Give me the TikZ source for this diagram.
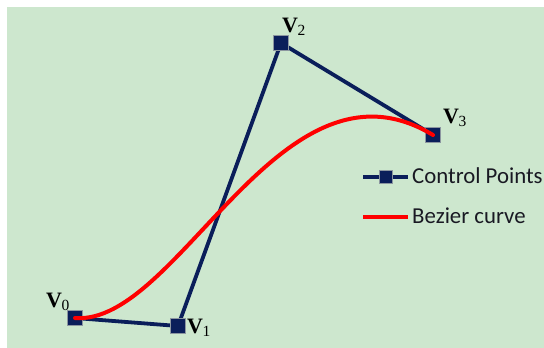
\documentclass[tikz,border=0pt]{standalone}
\usepackage{fontspec}
\setmainfont{Liberation Serif}
\newfontfamily\legendfont{Carlito}
\definecolor{bggreen}{RGB}{205,231,206}
\definecolor{navy}{RGB}{10,30,90}
\definecolor{boxedge}{RGB}{140,150,160}
\definecolor{legtext}{RGB}{25,25,35}
\tikzset{
  polyline/.style={draw=navy, line width=3.8pt},
  ptbox/.style={draw=boxedge, line width=0.8pt, fill=navy, minimum size=15pt, inner sep=0pt, rectangle},
  legbox/.style={draw=boxedge, line width=0.8pt, fill=navy, minimum width=13pt, minimum height=12.5pt, inner sep=0pt, rectangle},
  curveline/.style={draw=red, line width=4pt, line cap=round},
  vlabel/.style={anchor=base west, inner sep=0pt, text=black},
  legtxt/.style={anchor=base west, inner sep=0pt, text=legtext, font=\legendfont\fontsize{22.8}{24}\selectfont}
}
\newcommand{\vlab}[1]{{\fontsize{22}{24}\selectfont\bfseries V}\kern-0.5pt\raisebox{-3pt}{\fontsize{15.5}{16}\selectfont #1}}
\begin{document}
\begin{tikzpicture}[x=1pt,y=-1pt]
\useasboundingbox (0,0) rectangle (544,348);
\fill[white] (0,0) rectangle (544,348);
\fill[bggreen] (7,7) rectangle (544,348);
% control points
\coordinate (p0) at (75,318);
\coordinate (p1) at (178,326);
\coordinate (p2) at (281,43);
\coordinate (p3) at (433,135);
\draw[polyline] (p0) -- (p1) -- (p2) -- (p3);
\node[ptbox] (v0) at (p0) {};
\node[ptbox] (v1) at (p1) {};
\node[ptbox] (v2) at (p2) {};
\node[ptbox] (v3) at (p3) {};
\draw[curveline] (p0) .. controls (p1) and (p2) .. (p3);
% labels
\node[vlabel] (l0) at (46,307) {\vlab{0}};
\node[vlabel] (l1) at (187,333) {\vlab{1}};
\node[vlabel] (l2) at (282,32) {\vlab{2}};
\node[vlabel] (l3) at (443,123) {\vlab{3}};
% legend
\coordinate (la) at (363,177);
\coordinate (lb) at (408,177);
\draw[polyline, line width=3.4pt] (la) -- (lb);
\node[legbox] (lsq) at (386,177) {};
\node[legtxt] (lt1) at (412,183.5) {Control Points};
\coordinate (lc) at (363,217);
\coordinate (ld) at (408,217);
\draw[draw=red, line width=4pt] (lc) -- (ld);
\node[legtxt] (lt2) at (412,223.5) {Bezier curve};
\end{tikzpicture}
\end{document}
